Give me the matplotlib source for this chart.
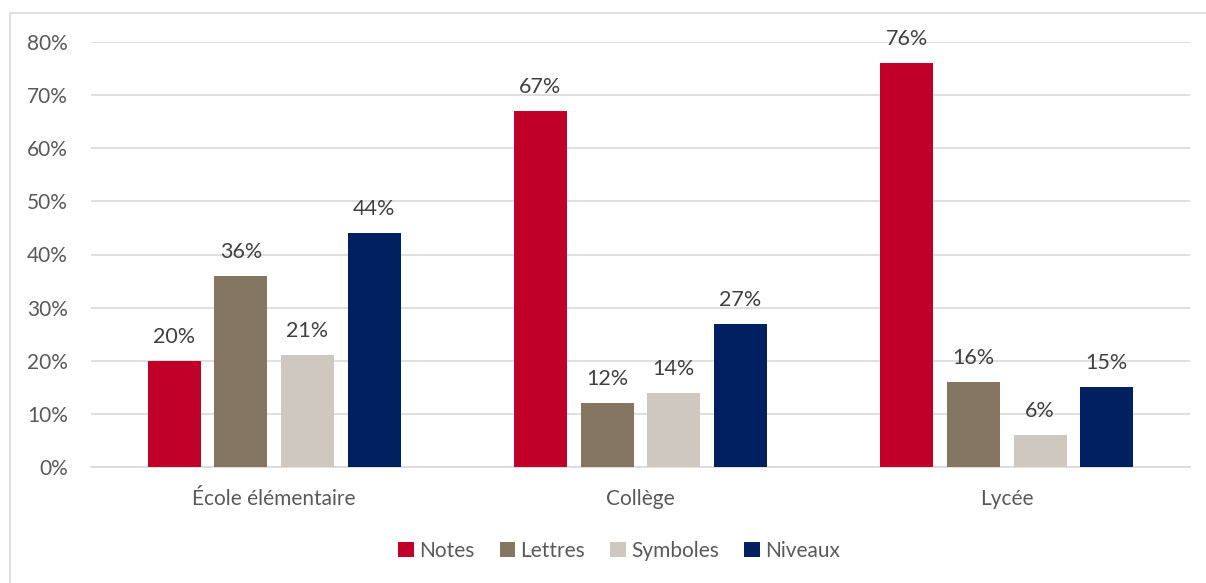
import matplotlib
matplotlib.use("Agg")
import matplotlib.pyplot as plt
import numpy as np
from matplotlib.patches import Rectangle

categories = ["École élémentaire", "Collège", "Lycée"]
series = ["Notes", "Lettres", "Symboles", "Niveaux"]
values = {
    "Notes": [20, 67, 76],
    "Lettres": [36, 12, 16],
    "Symboles": [21, 14, 6],
    "Niveaux": [44, 27, 15],
}
colors = ["#C00029", "#857661", "#CFC8C1", "#002060"]
yticks = [0, 10, 20, 30, 40, 50, 60, 70, 80]

plt.rcParams['font.family'] = ['Lato', 'DejaVu Sans']
txt = "#595959"
lbl = "#404040"

fig = plt.figure(figsize=(12.06, 5.83), dpi=100)
W, H = 1206, 583
ax = fig.add_axes([91 / W, 1 - 467 / H, (1190 - 91) / W, (467 - 42) / H])

# outer border
fig.patches.append(Rectangle((10 / W, -0.1), 1.2, 1 - 13 / H + 0.1,
                             transform=fig.transFigure, fill=False,
                             edgecolor="#D9D9D9", linewidth=1.2))

x = np.arange(len(categories))
bw = 0.145
pitch = 0.182
for i, (s, c) in enumerate(zip(series, colors)):
    off = (i - 1.5) * pitch
    ax.bar(x + off, values[s], width=bw, color=c, label=s, zorder=3)
    for xi, v in zip(x + off, values[s]):
        ax.annotate(f"{v}%", (xi, v), xytext=(0, 13), textcoords="offset points",
                    ha="center", va="baseline", fontsize=15.5, color=lbl)

ax.set_xlim(-0.5, 2.5)
ax.set_ylim(0, 80)
ax.set_yticks(yticks)
ax.set_yticklabels([f"{t}%" for t in yticks], fontsize=15, color=txt)
ax.set_xticks(x)
ax.set_xticklabels(categories, fontsize=15, color=txt)
ax.tick_params(axis="both", length=0)
ax.tick_params(axis="y", pad=16.5)
ax.tick_params(axis="x", pad=16)
ax.grid(axis="y", color="#D9D9D9", linewidth=1.2, zorder=0)
for sp in ["top", "right", "left"]:
    ax.spines[sp].set_visible(False)
ax.spines["bottom"].set_color("#D9D9D9")
ax.spines["bottom"].set_linewidth(1.2)

leg = fig.legend(loc="center", bbox_to_anchor=(619 / W, 1 - 551 / H), ncol=4,
                 frameon=False, fontsize=15, handlelength=0.75, handleheight=0.75,
                 handletextpad=0.25, columnspacing=1.2)
for t in leg.get_texts():
    t.set_color(txt)

fig.savefig("out.png", dpi=100)
